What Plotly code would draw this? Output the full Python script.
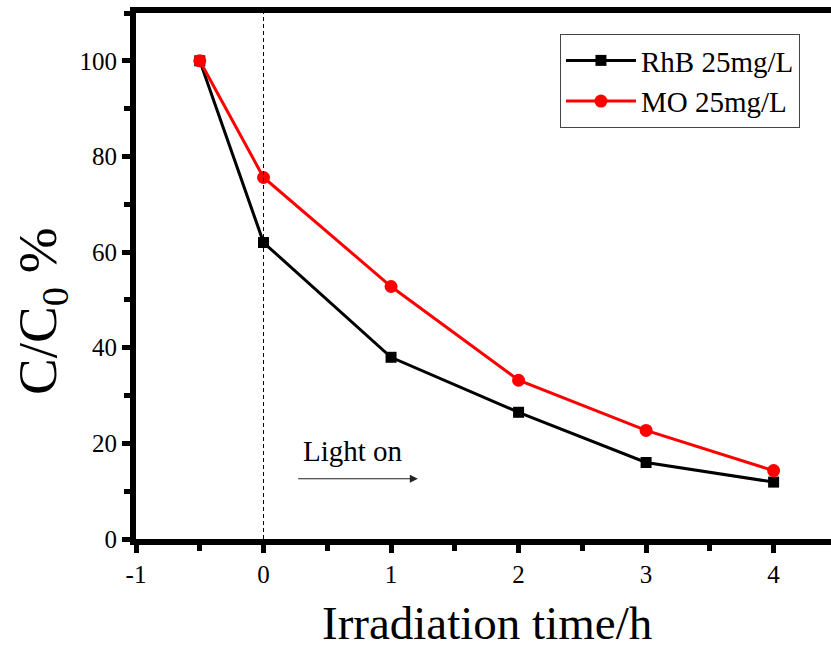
import plotly.graph_objects as go

time_h = [-0.5, 0, 1, 2, 3, 4]
rhb = [100, 62.0, 38.0, 26.5, 16.0, 11.9]
mo = [100, 75.6, 52.8, 33.2, 22.7, 14.3]
x_ticks = [-1, 0, 1, 2, 3, 4]
x_ticklabels = ["-1", "0", "1", "2", "3", "4"]
y_ticks = [0, 20, 40, 60, 80, 100]

font_family = "Liberation Serif"

W, H = 831, 650
ml, mr, mt, mb = 136, 0, 13, 111
pw, ph = W - ml - mr, H - mt - mb
def px_to_paper(px, py):
    return (px - ml) / pw, (H - mb - py) / ph

fig = go.Figure()
fig.add_trace(go.Scatter(x=time_h, y=rhb, mode="lines+markers", name="RhB 25mg/L",
                         line=dict(color="black", width=3),
                         marker=dict(symbol="square", size=11, color="black")))
fig.add_trace(go.Scatter(x=time_h, y=mo, mode="lines+markers", name="MO 25mg/L",
                         line=dict(color="#ff0000", width=3),
                         marker=dict(symbol="circle", size=13, color="#ff0000")))

# dashed line at light-on
fig.add_shape(type="line", x0=0, x1=0, y0=0, y1=110, xref="x", yref="y",
              line=dict(color="black", width=1, dash="4px,3px"))

fig.add_annotation(x=1.21, y=12.6, ax=0.26, ay=12.6, xref="x", yref="y", axref="x", ayref="y",
                   showarrow=True, arrowhead=2, arrowsize=1.6, arrowwidth=1, arrowcolor="#222", text="")
fig.add_annotation(x=0.7, y=18.5, xref="x", yref="y", text="Light on", showarrow=False,
                   font=dict(family=font_family, size=29, color="black"))

# axis titles
xa, ya = px_to_paper(487, 623)
fig.add_annotation(x=xa, y=ya, xref="paper", yref="paper", text="Irradiation time/h",
                   xanchor="center", yanchor="middle",
                   showarrow=False, font=dict(family=font_family, size=47, color="black"))
xb, yb = px_to_paper(42, 312)
fig.add_annotation(text="C/C<sub>0</sub> %", textangle=-90, showarrow=False,
                   xref="paper", yref="paper", x=xb, y=yb, xanchor="center", yanchor="middle",
                   font=dict(family=font_family, size=55, color="black"))

axis_common = dict(showline=True, linecolor="#000000", linewidth=6, ticks="outside",
                   ticklen=8, tickwidth=4.5, tickcolor="#000000", showgrid=False, zeroline=False,
                   tickfont=dict(family=font_family, size=25, color="black"))

fig.update_xaxes(range=[-1, 4.45], tickvals=x_ticks, ticktext=x_ticklabels, mirror=True,
                 minor=dict(ticks="outside", dtick=0.5, tick0=0, ticklen=6, tickwidth=4.5, tickcolor="#000000"),
                 **axis_common)
fig.update_yaxes(range=[0, 110], tickvals=y_ticks, mirror=False,
                 minor=dict(ticks="outside", dtick=10, tick0=0, ticklen=6, tickwidth=4.5, tickcolor="#000000"),
                 **axis_common)

fig.update_layout(width=W, height=H, plot_bgcolor="white", paper_bgcolor="white",
                  margin=dict(l=ml, r=mr, t=mt, b=mb),
                  legend=dict(x=0.61, y=0.96, xanchor="left", yanchor="top",
                              bordercolor="#444", borderwidth=1, bgcolor="white",
                              font=dict(family=font_family, size=29, color="black"),
                              itemwidth=70, tracegroupgap=0))

fig.write_html("out.html")
